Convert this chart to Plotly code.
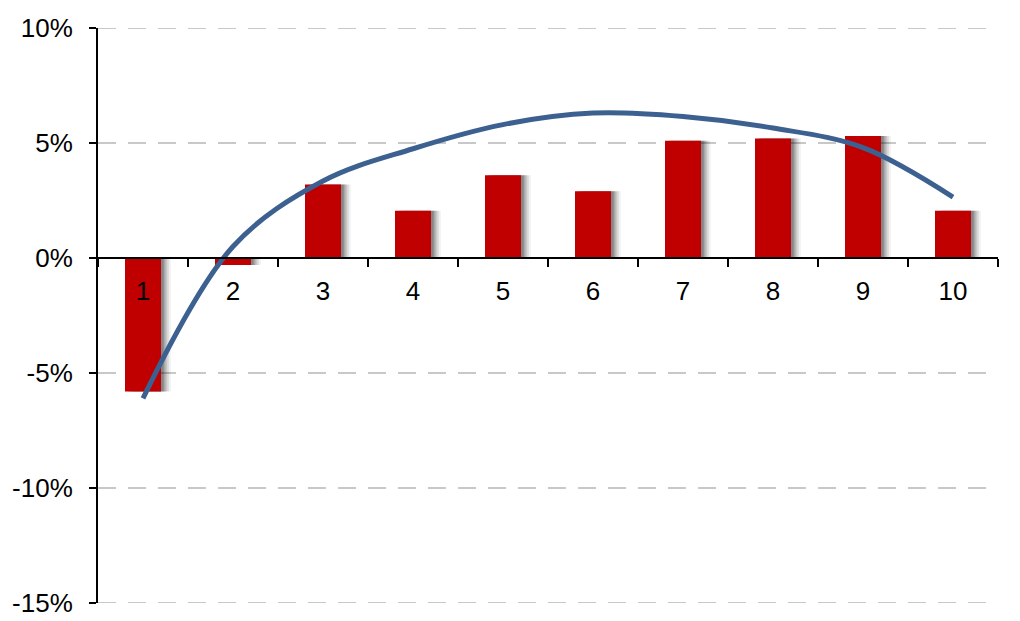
import plotly.graph_objects as go

categories = ["1", "2", "3", "4", "5", "6", "7", "8", "9", "10"]
bar_values = [-5.8, -0.3, 3.2, 2.05, 3.6, 2.9, 5.1, 5.2, 5.3, 2.05]
line_values = [-6.1, 0.5, 3.35, 4.75, 5.8, 6.3, 6.15, 5.65, 4.8, 2.65]
y_ticks = [-15, -10, -5, 0, 5, 10]
y_tick_labels = ["-15%", "-10%", "-5%", "0%", "5%", "10%"]

fig = go.Figure()

# dashed grid lines drawn as shapes so the ones on the plot edges show too
for v in y_ticks:
    if v == 0:
        continue
    fig.add_shape(type="line", xref="paper", x0=0, x1=1, yref="y", y0=v, y1=v,
                  line=dict(color="#C8C8C8", width=2, dash="18px,12px"), layer="below")

# soft drop shadow behind the bars
for shift, alpha in [(0.11, 0.05), (0.09, 0.08), (0.07, 0.11), (0.05, 0.15), (0.03, 0.2)]:
    fig.add_trace(go.Bar(
        x=categories, y=bar_values, width=0.4, offset=-0.2 + shift,
        marker=dict(color=f"rgba(0,0,0,{alpha})", line=dict(width=0)),
        hoverinfo="skip", showlegend=False,
    ))

fig.add_trace(go.Bar(
    x=categories, y=bar_values, width=0.4, offset=-0.2,
    marker=dict(color="#C00000", line=dict(width=0)),
    showlegend=False,
))

fig.add_trace(go.Scatter(
    x=categories, y=line_values, mode="lines",
    line=dict(color="#3C6190", width=5, shape="spline", smoothing=1.0),
    showlegend=False,
))

# page body has an 8px margin, so the figure is a bit smaller than the window
fig.update_layout(
    width=1004, height=613,
    margin=dict(l=90, r=14, t=20, b=18),
    paper_bgcolor="white", plot_bgcolor="white",
    barmode="overlay",
    font=dict(family="Liberation Sans, Arial, sans-serif", size=26, color="black"),
    xaxis=dict(
        type="category", range=[-0.5, 9.5],
        anchor="free", position=0.6, automargin=False,
        showline=True, linecolor="black", linewidth=2,
        ticks="outside", ticklen=8, tickwidth=2, tickcolor="black",
        tickson="boundaries", showgrid=False, zeroline=False,
        tickfont=dict(size=26), ticklabelstandoff=10,
    ),
    yaxis=dict(
        range=[-15, 10], domain=[0, 1], automargin=False,
        tickvals=y_ticks, ticktext=y_tick_labels,
        showline=True, linecolor="black", linewidth=2,
        ticks="outside", ticklen=7, tickwidth=2, tickcolor="black",
        showgrid=False, zeroline=False, tickfont=dict(size=26),
        ticklabelstandoff=11, ticklabeloverflow="allow",
    ),
)

fig.write_html("out.html")
